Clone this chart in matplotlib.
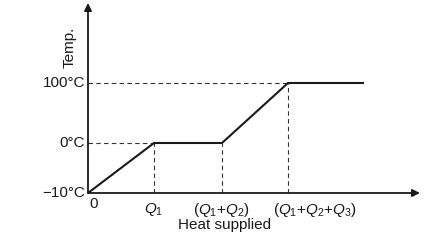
import matplotlib
matplotlib.use("Agg")
import matplotlib.pyplot as plt

plt.rcParams['font.family'] = ['Liberation Sans', 'DejaVu Sans']
plt.rcParams['mathtext.fontset'] = 'custom'
plt.rcParams['mathtext.it'] = 'Liberation Sans:italic'
plt.rcParams['mathtext.rm'] = 'Liberation Sans'

# schematic heating curve (heat in arbitrary units, temperature as drawn level)
heat = [0, 66, 134, 200, 275]
level = [0, 50, 50, 110, 110]

temp_levels = [0, 50, 110]
temp_labels = ['\u221210\u00b0C', '0\u00b0C', '100\u00b0C']

q_pos = [66, 134, 200]
q_text_pos = [66, 133, 227]
q_labels = ['$Q_1$', '($Q_1$+$Q_2$)', '($Q_1$+$Q_2$+$Q_3$)']

fig = plt.figure(figsize=(4.42, 2.52), dpi=100)
ax = fig.add_axes([88 / 442, 59 / 252, 332 / 442, 190 / 252])
ax.set_xlim(0, 332)
ax.set_ylim(0, 190)
ax.axis('off')

ink = '#1a1a1a'

# axes with arrows
ax.annotate('', xy=(332, 0), xytext=(0, 0),
            arrowprops=dict(arrowstyle='-|>', lw=1.3, color=ink, mutation_scale=11,
                            shrinkA=0, shrinkB=0))
ax.annotate('', xy=(0, 190), xytext=(0, 0),
            arrowprops=dict(arrowstyle='-|>', lw=1.3, color=ink, mutation_scale=11,
                            shrinkA=0, shrinkB=0))

# dashed guide lines
dash = dict(color='#333333', lw=0.8, ls=(0, (4, 3)))
ax.plot([0, heat[1]], [level[1], level[1]], **dash)
ax.plot([0, heat[3]], [level[3], level[3]], **dash)
for x, y in zip(heat[1:4], level[1:4]):
    ax.plot([x, x], [0, y], **dash)

# heating curve
ax.plot(heat, level, color=ink, lw=1.5, solid_joinstyle='miter')

# labels
for y, t in zip(temp_levels, temp_labels):
    ax.text(-3, y, t, ha='right', va='center', fontsize=11, color=ink, clip_on=False)
ax.text(1, -11, '0', ha='left', va='center', fontsize=11, color=ink, clip_on=False)
for x, t in zip(q_text_pos, q_labels):
    ax.text(x, -17, t, ha='center', va='center', fontsize=11, color=ink, clip_on=False)
ax.text(137, -32, 'Heat supplied', ha='center', va='center', fontsize=11, color=ink,
        clip_on=False)
ax.text(-18, 146, 'Temp.', ha='center', va='center', rotation=90, fontsize=11,
        color=ink, clip_on=False)

fig.savefig('out.png', dpi=100)
